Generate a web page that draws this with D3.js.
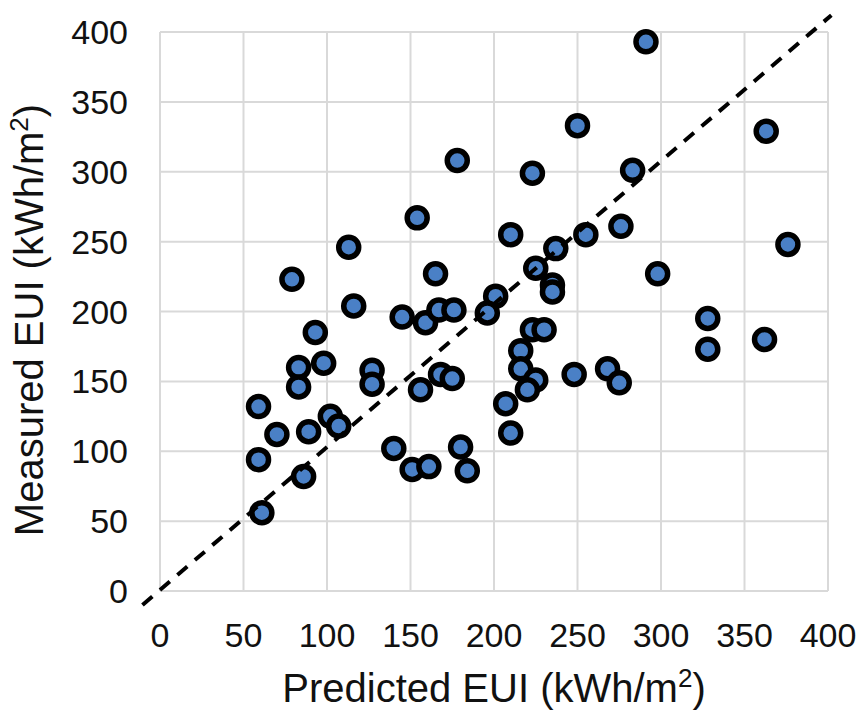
<!DOCTYPE html>
<meta charset="utf-8">
<head>
  <title>Predicted vs measured EUI</title>
</head>

<style>
body { margin: 0; background: white; }
text {
  font-family: "Liberation Sans", Arial, Helvetica, sans-serif;
  fill: #111;
}
.grid line { stroke: #d9d9d9; stroke-width: 2; }
.tick-label { font-size: 34px; }
.axis-title { font-size: 40px; }
</style>

<body>
  <svg width="859" height="714"></svg>

  <script src="https://cdnjs.cloudflare.com/ajax/libs/d3/7.8.5/d3.min.js"></script>
  <script>
// predicted EUI (x) and measured EUI (y), kWh/m2
var predicted = [291, 250, 363, 178, 223, 283, 154, 113, 79, 165,
  201, 116, 210, 276, 255, 237, 225, 235, 235, 298,
  376, 93, 83, 83, 98, 59, 70, 89, 102, 107,
  59, 86, 61, 127, 127, 145, 159, 167, 176, 196,
  168, 175, 156, 140, 151, 161, 180, 184, 207, 210,
  223, 230, 216, 216, 225, 220, 248, 268, 275, 328,
  328, 362];
var measured = [393, 333, 329, 308, 299, 301, 267, 246, 223, 227,
  211, 204, 255, 261, 255, 245, 231, 219, 214, 227,
  248, 185, 160, 146, 163, 132, 112, 114, 125, 118,
  94, 82, 56, 158, 148, 196, 192, 201, 201, 199,
  155, 152, 144, 102, 87, 89, 103, 86, 134, 113,
  187, 187, 172, 159, 151, 144, 155, 159, 149, 195,
  173, 180];
var ticks = [0, 50, 100, 150, 200, 250, 300, 350, 400];
// reference line ends
var diagX = [-10.5, 402];
var diagY = [-10, 412];

var svg = d3.select('svg');

var x = d3.scaleLinear().domain([0, 400]).range([160, 828]);
var y = d3.scaleLinear().domain([0, 400]).range([591, 32]);

var grid = svg.append('g').attr('class', 'grid');

grid.selectAll('.vx')
  .data(ticks)
  .enter()
  .append('line')
  .attr('x1', function(d) { return x(d); })
  .attr('x2', function(d) { return x(d); })
  .attr('y1', y(0))
  .attr('y2', y(400));

grid.selectAll('.hy')
  .data(ticks)
  .enter()
  .append('line')
  .attr('x1', x(0))
  .attr('x2', x(400))
  .attr('y1', function(d) { return y(d); })
  .attr('y2', function(d) { return y(d); });

svg.append('g')
  .selectAll('text')
  .data(ticks)
  .enter()
  .append('text')
  .attr('class', 'tick-label')
  .attr('x', function(d) { return x(d); })
  .attr('y', 647)
  .attr('text-anchor', 'middle')
  .text(function(d) { return d; });

svg.append('g')
  .selectAll('text')
  .data(ticks)
  .enter()
  .append('text')
  .attr('class', 'tick-label')
  .attr('x', 128)
  .attr('y', function(d) { return y(d) + 12; })
  .attr('text-anchor', 'end')
  .text(function(d) { return d; });

var points = predicted.map(function(p, i) { return [p, measured[i]]; });

svg.append('g')
  .selectAll('circle')
  .data(points)
  .enter()
  .append('circle')
  .attr('cx', function(d) { return x(d[0]); })
  .attr('cy', function(d) { return y(d[1]); })
  .attr('r', 10)
  .attr('fill', '#4a80c6')
  .attr('stroke', '#000')
  .attr('stroke-width', 5.5);

svg.append('line')
  .attr('x1', x(diagX[0]))
  .attr('y1', y(diagY[0]))
  .attr('x2', x(diagX[1]))
  .attr('y2', y(diagY[1]))
  .attr('stroke', '#000')
  .attr('stroke-width', 4)
  .attr('stroke-dasharray', '13,10');

var xt = svg.append('text')
  .attr('class', 'axis-title')
  .attr('x', x(200))
  .attr('y', 702)
  .attr('text-anchor', 'middle');
xt.append('tspan').text('Predicted EUI (kWh/m');
xt.append('tspan').attr('dy', -15).attr('font-size', '26px').text('2');
xt.append('tspan').attr('dy', 15).text(')');

var yt = svg.append('text')
  .attr('class', 'axis-title')
  .attr('transform', 'translate(43,320) rotate(-90)')
  .attr('text-anchor', 'middle');
yt.append('tspan').text('Measured EUI (kWh/m');
yt.append('tspan').attr('dy', -15).attr('font-size', '26px').text('2');
yt.append('tspan').attr('dy', 15).text(')');
  </script>
</body>
</html>
